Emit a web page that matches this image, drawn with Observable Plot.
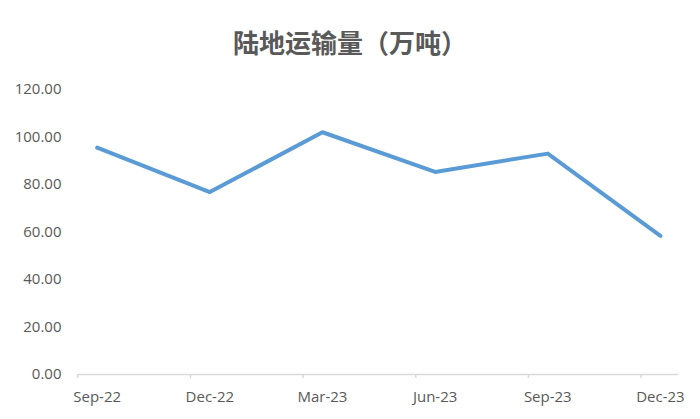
<!DOCTYPE html>
<html>
<head>
<meta charset="utf-8">
<script src="https://cdn.jsdelivr.net/npm/d3@7"></script>
<script src="https://cdn.jsdelivr.net/npm/@observablehq/plot@0.6"></script>
<style>
  html, body { margin: 0; padding: 0; background: #fff; }
  #title {
    width: 700px; height: 70px; box-sizing: border-box;
    padding-top: 29px; text-align: center;
    font-family: "Noto Sans CJK SC", sans-serif; font-weight: bold;
    font-size: 26px; line-height: 26px; color: #595959;
  }
</style>
</head>
<body>
<div id="title">陆地运输量（万吨）</div>
<div id="chart"></div>
<script>
const categories = ["Sep-22", "Dec-22", "Mar-23", "Jun-23", "Sep-23", "Dec-23"];
const values = [95.5, 76.8, 102.0, 85.3, 93.0, 58.4];
const yTicks = [0, 20, 40, 60, 80, 100, 120];

const data = categories.map((c, i) => ({i, label: c, value: values[i]}));
const idx = categories.map((c, i) => i);
const tickShift = -0.172;

const chart = Plot.plot({
  width: 700,
  height: 349,
  marginTop: 19,
  marginBottom: 45,
  marginLeft: 77.3,
  marginRight: 21.7,
  style: {fontFamily: "'Open Sans', sans-serif", fontSize: "15px", color: "#595959", background: "#fff"},
  x: {type: "linear", domain: [tickShift, 5.163], label: null},
  y: {domain: [0, 120], label: null},
  marks: [
    Plot.axisY({ticks: yTicks, tickSize: 0, tickPadding: 16.3, tickFormat: d3.format(".2f"), fill: "#595959", fontSize: 15, label: null}),
    Plot.ruleY([0], {stroke: "#d9d9d9", strokeWidth: 1.5}),
    Plot.axisX({ticks: idx.map(i => i + tickShift), tickSize: 4, tickFormat: () => "", stroke: "#d9d9d9", strokeWidth: 1.5, label: null}),
    Plot.axisX({ticks: idx, tickSize: 0, tickPadding: 17, tickFormat: i => categories[i], fill: "#595959", fontSize: 15, label: null}),
    Plot.line(data, {x: "i", y: "value", stroke: "#5b9bd5", strokeWidth: 4, strokeLinejoin: "round", strokeLinecap: "round"})
  ]
});
document.getElementById("chart").appendChild(chart);
</script>
</body>
</html>
